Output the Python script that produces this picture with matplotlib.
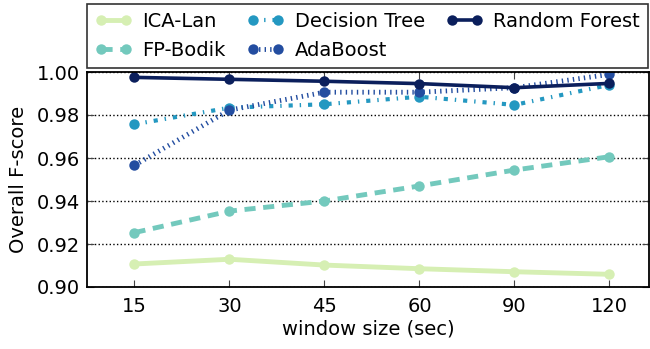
import matplotlib
matplotlib.use("Agg")
import matplotlib.pyplot as plt
import numpy as np

windows = ["15", "30", "45", "60", "90", "120"]

ica_lan = [0.9107, 0.9129, 0.9102, 0.9085, 0.9071, 0.9059]
fp_bodik = [0.9253, 0.9353, 0.9400, 0.9470, 0.9544, 0.9606]
decision_tree = [0.9757, 0.9834, 0.9850, 0.9885, 0.9847, 0.9940]
adaboost = [0.9566, 0.9823, 0.9906, 0.9906, 0.9927, 0.9989]
random_forest = [0.9975, 0.9966, 0.9957, 0.9946, 0.9927, 0.9947]

# name, values, colour, dash pattern (points, not scaled), line width
series = [
    ("ICA-Lan", ica_lan, "#d6efb3", "-", 3.5),
    ("FP-Bodik", fp_bodik, "#73c9bd", (0, (8, 5.5)), 3.5),
    ("Decision Tree", decision_tree, "#2498c1", (0, (3, 5, 1, 5)), 3),
    ("AdaBoost", adaboost, "#234da0", (0, (1, 3)), 3.5),
    ("Random Forest", random_forest, "#0b1f5c", "-", 2.6),
]

plt.rcParams["font.family"] = "DejaVu Sans"
plt.rcParams["lines.scale_dashes"] = False
plt.rcParams["lines.dash_capstyle"] = "butt"

fig = plt.figure(figsize=(6.5, 3.49), dpi=100)
ax = fig.add_axes([87 / 650, 62 / 349, 562 / 650, 215 / 349])

x = np.arange(len(windows))
for name, vals, col, ls, lw in series:
    ax.plot(x, vals, color=col, linestyle=ls, linewidth=lw, marker="o",
            markersize=7.5, markeredgewidth=0, label=name)

ax.set_xlim(-0.5, 5.416)
ax.set_ylim(0.90, 1.00)
ax.set_xticks(x)
ax.set_xticklabels(windows)
ax.set_yticks([0.90, 0.92, 0.94, 0.96, 0.98, 1.00])
ax.yaxis.grid(True, linestyle=":", color="black", linewidth=1)
ax.tick_params(direction="in", top=True, right=True, labelsize=14,
               length=5, color="#444444")
ax.tick_params(axis="x", pad=7)
ax.tick_params(axis="y", pad=5)
for sp in ax.spines.values():
    sp.set_linewidth(1.3)
ax.set_xlabel("window size (sec)", fontsize=14, labelpad=3)
ax.set_ylabel("Overall F-score", fontsize=14, labelpad=6)

leg = ax.legend(loc="lower left", bbox_to_anchor=(0, 1.0186, 0.998, 0.3),
                mode="expand", ncol=3, fontsize=14, numpoints=2,
                handlelength=1.9, handletextpad=0.55, columnspacing=0.6,
                borderaxespad=0, fancybox=False, labelspacing=0.55,
                borderpad=0.4)
leg.get_frame().set_edgecolor("black")
leg.get_frame().set_linewidth(1.2)

fig.savefig("out.png", dpi=100)
